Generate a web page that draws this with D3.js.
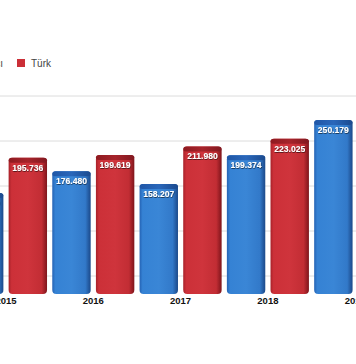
<!DOCTYPE html>
<html>
<head>
<meta charset="utf-8">
<script src="https://cdn.jsdelivr.net/npm/d3@7/dist/d3.min.js"></script>
<style>
  html, body { margin: 0; padding: 0; background: #fff; overflow: hidden; }
  svg { display: block; }
  text { font-family: "Liberation Sans", Arial, Helvetica, sans-serif; }
</style>
</head>
<body>
<svg id="chart" width="356" height="364"></svg>
<script>
// ---- data ----
const years = ["2015", "2016", "2017", "2018", "2019"];
const seriesNames = ["Yabancı", "Türk"];
const yabanciValues = [145000, 176480, 158207, 199374, 250179];
const turkValues = [195736, 199619, 211980, 223025, 235000];
const gridTicks = [50000, 100000, 150000, 200000, 250000];

const colors = { "Yabancı": "#3580d2", "Türk": "#cb2f37" };

const svg = d3.select("#chart");
const W = 356, H = 364;

const locale = d3.formatLocale({ decimal: ",", thousands: ".", grouping: [3], currency: ["", ""] });
const fmt = locale.format(",d");

// ---- scales ----
const x0 = d3.scaleBand().domain(years).range([-37.65, 398.85]).paddingInner(0).paddingOuter(0);
const x1 = d3.scaleBand().domain(seriesNames).range([0, x0.bandwidth()]).paddingInner(0.12).paddingOuter(0.06);
const y = d3.scaleLinear().domain([0, 300000]).range([294, 85.2]);
// back wall grid (3D chart wall)
const yGrid = d3.scaleLinear().domain([0, 250000]).range([321, 96]);

// ---- defs ----
const defs = svg.append("defs");
function hGrad(id, stops) {
  const g = defs.append("linearGradient").attr("id", id).attr("x1", "0").attr("x2", "1").attr("y1", "0").attr("y2", "0");
  stops.forEach(s => g.append("stop").attr("offset", s[0]).attr("stop-color", s[1]));
}
hGrad("g-Yabancı", [[0, "#2563b4"], [0.08, "#3582d4"], [0.5, "#3a86d6"], [0.86, "#3279c9"], [0.95, "#23599f"], [1, "#1c4a8a"]]);
hGrad("g-Türk", [[0, "#a8222a"], [0.08, "#cc3038"], [0.5, "#cf343c"], [0.86, "#c22d34"], [0.95, "#961d24"], [1, "#7e161c"]]);
hGrad("c-Yabancı", [[0, "#1f56a6"], [0.5, "#2a67ba"], [1, "#1b4a8e"]]);
hGrad("c-Türk", [[0, "#8e1a20"], [0.5, "#a6242b"], [1, "#821820"]]);

const f = defs.append("filter").attr("id", "tshadow").attr("x", "-20%").attr("y", "-50%").attr("width", "140%").attr("height", "200%");
f.append("feDropShadow").attr("dx", 0.4).attr("dy", 0.7).attr("stdDeviation", 0.5).attr("flood-color", "#000").attr("flood-opacity", 0.75);

// ---- grid lines ----
svg.append("g").selectAll("line").data(gridTicks).join("line")
  .attr("x1", 0).attr("x2", W)
  .attr("y1", d => yGrid(d)).attr("y2", d => yGrid(d))
  .attr("stroke", "#dcdcdc").attr("stroke-width", 1);

// ---- bars ----
const data = [];
years.forEach((yr, i) => {
  data.push({ year: yr, series: "Yabancı", value: yabanciValues[i] });
  data.push({ year: yr, series: "Türk", value: turkValues[i] });
});

const bw = x1.bandwidth();
const bars = svg.append("g").selectAll("g").data(data).join("g")
  .attr("transform", d => `translate(${x0(d.year) + x1(d.series)},0)`);

bars.append("rect")
  .attr("x", 0).attr("width", bw)
  .attr("y", d => y(d.value)).attr("height", d => y(0) - y(d.value))
  .attr("rx", 4).attr("ry", 4)
  .attr("fill", d => `url(#g-${d.series})`);

bars.append("rect")
  .attr("x", 0).attr("width", bw)
  .attr("y", d => y(d.value)).attr("height", 5)
  .attr("rx", 3).attr("ry", 3)
  .attr("fill", d => `url(#c-${d.series})`);

bars.append("text")
  .attr("x", bw / 2).attr("y", d => y(d.value) + 13)
  .attr("text-anchor", "middle")
  .attr("font-size", "8.6px").attr("font-weight", "bold")
  .attr("fill", "#fff").attr("filter", "url(#tshadow)")
  .text(d => fmt(d.value));

// ---- x axis labels ----
svg.append("g").selectAll("text").data(years).join("text")
  .attr("x", d => x0(d) + x0.bandwidth() / 2)
  .attr("y", 304)
  .attr("text-anchor", "middle")
  .attr("font-size", "9.5px").attr("font-weight", "bold")
  .attr("fill", "#111")
  .text(d => d);

// ---- legend ----
const lg = svg.append("g");
const turkItem = lg.append("g").attr("transform", "translate(17,0)");
turkItem.append("rect").attr("x", 0).attr("y", 59).attr("width", 8).attr("height", 8).attr("fill", colors["Türk"]);
turkItem.append("text").attr("x", 14).attr("y", 67).attr("font-size", "10px").attr("fill", "#444").text("Türk");

const yabText = lg.append("text").attr("x", 3).attr("y", 67).attr("text-anchor", "end")
  .attr("font-size", "10px").attr("fill", "#444").text("Yabancı");
const tw = yabText.node().getComputedTextLength();
lg.append("rect").attr("x", 3 - tw - 14).attr("y", 59).attr("width", 8).attr("height", 8).attr("fill", colors["Yabancı"]);
</script>
</body>
</html>
